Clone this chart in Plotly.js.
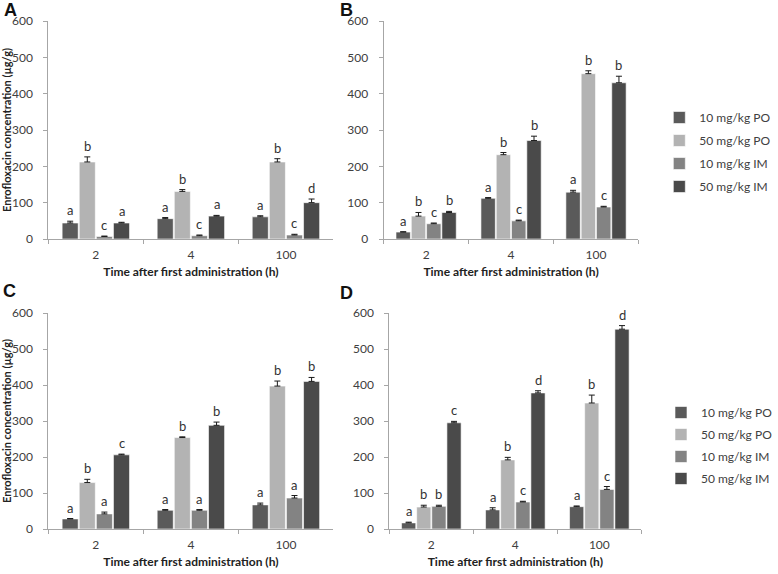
<!DOCTYPE html>
<html>
<head>
<meta charset="utf-8">
<script src="https://cdn.plot.ly/plotly-3.0.1.min.js"></script>
<style>html,body{margin:0;padding:0;background:#fff}#chart{width:778px;height:574px}</style>
</head>
<body>
<div id="chart"></div>
<script>
// ---- data ----
const categories = ['2', '4', '100'];
const seriesNames = ['10 mg/kg PO', '50 mg/kg PO', '10 mg/kg IM', '50 mg/kg IM'];
const seriesColors = ['#5a5a5a', '#b3b3b3', '#838383', '#4a4a4a'];

// Panel A
const aPO10 = [44, 56, 61],   aPO10Err = [5, 3, 3];
const aPO50 = [212, 131, 212], aPO50Err = [14, 5, 9];
const aIM10 = [7, 9, 11],     aIM10Err = [1, 2, 2];
const aIM50 = [44, 63, 100],  aIM50Err = [2, 2, 10];
const aLetters = [['a','a','a'], ['b','b','b'], ['c','c','c'], ['a','a','d']];

// Panel B
const bPO10 = [19, 112, 129], bPO10Err = [1, 2, 5];
const bPO50 = [63, 232, 455], bPO50Err = [10, 6, 8];
const bIM10 = [42, 50, 88],   bIM10Err = [2, 2, 2];
const bIM50 = [73, 271, 430], bIM50Err = [3, 12, 18];
const bLetters = [['a','a','a'], ['b','b','b'], ['c','c','c'], ['b','b','b']];

// Panel C
const cPO10 = [28, 52, 67],   cPO10Err = [1, 2, 5];
const cPO50 = [129, 254, 397], cPO50Err = [9, 2, 14];
const cIM10 = [42, 52, 86],   cIM10Err = [5, 2, 7];
const cIM50 = [206, 288, 410], cIM50Err = [2, 9, 11];
const cLetters = [['a','a','a'], ['b','b','b'], ['a','a','a'], ['c','b','b']];

// Panel D
const dPO10 = [17, 53, 62],   dPO10Err = [2, 6, 2];
const dPO50 = [61, 192, 350], dPO50Err = [5, 7, 22];
const dIM10 = [63, 75, 110],  dIM10Err = [3, 2, 8];
const dIM50 = [295, 378, 555], dIM50Err = [4, 6, 10];
const dLetters = [['a','a','a'], ['b','b','b'], ['b','c','c'], ['c','d','d']];

const panelLabels = ['A', 'B', 'C', 'D'];
const yTitle = 'Enrofloxacin concentration (µg/g)';
const xTitle = 'Time after first administration (h)';

// ---- build ----
const W = 778, H = 574;
const FONT = 'Lato, "Open Sans", sans-serif';
const panels = [
  {vals:[aPO10,aPO50,aIM10,aIM50], errs:[aPO10Err,aPO50Err,aIM10Err,aIM50Err], letters:aLetters, xa:'x',  ya:'y',  legend:null},
  {vals:[bPO10,bPO50,bIM10,bIM50], errs:[bPO10Err,bPO50Err,bIM10Err,bIM50Err], letters:bLetters, xa:'x2', ya:'y2', legend:'legend'},
  {vals:[cPO10,cPO50,cIM10,cIM50], errs:[cPO10Err,cPO50Err,cIM10Err,cIM50Err], letters:cLetters, xa:'x3', ya:'y3', legend:null},
  {vals:[dPO10,dPO50,dIM10,dIM50], errs:[dPO10Err,dPO50Err,dIM10Err,dIM50Err], letters:dLetters, xa:'x4', ya:'y4', legend:'legend2'}
];
// plot-area boxes in pixels [x0, x1, yTop, yBottom]
const boxes = [[51, 352, 21, 239], [405, 674, 21, 239], [51, 352, 313, 529], [411, 677, 313, 529]];

const bargap = 0.28;
const slot = (1 - bargap) / 4;
const traces = [];
const annotations = [];

panels.forEach((p, pi) => {
  p.vals.forEach((v, si) => {
    traces.push({
      type: 'bar', x: categories, y: v, name: seriesNames[si],
      xaxis: p.xa, yaxis: p.ya,
      marker: {color: seriesColors[si], line: {color: '#ffffff', width: 0.6}},
      error_y: {type: 'data', array: p.errs[si], arrayminus: p.errs[si].map(() => 0), symmetric: false,
                color: '#1a1a1a', thickness: 1, width: 3},
      showlegend: p.legend !== null,
      legend: p.legend || 'legend',
      legendgroup: 'g' + pi + si,
      hoverinfo: 'skip'
    });
    categories.forEach((c, ci) => {
      annotations.push({
        xref: p.xa, yref: p.ya, x: ci - (1 - bargap) / 2 + (si + 0.5) * slot,
        y: v[ci] + p.errs[si][ci], yanchor: 'bottom', xanchor: 'center', yshift: 1,
        text: p.letters[si][ci], showarrow: false,
        font: {family: FONT, size: 13, color: '#333333'}
      });
    });
  });
});

const lp = [[11, 10], [366, 10], [10, 291], [366, 293]];
panelLabels.forEach((t, i) => annotations.push({
  xref: 'paper', yref: 'paper', x: lp[i][0] / W, y: 1 - lp[i][1] / H,
  xanchor: 'center', yanchor: 'middle', showarrow: false, text: '<b>' + t + '</b>',
  borderpad: 0,
  font: {family: 'Arial, "Liberation Sans", sans-serif', size: 18, color: '#111'}
}));

const layout = {
  width: W, height: H, margin: {l: 0, r: 0, t: 0, b: 0},
  paper_bgcolor: '#fff', plot_bgcolor: '#fff',
  barmode: 'group', bargap: bargap, bargroupgap: 0.06,
  font: {family: FONT, size: 12, color: '#404040'},
  annotations: annotations,
  legend: {x: 696 / W, y: 1 - 103 / H, xanchor: 'left', yanchor: 'top', tracegroupgap: 4,
           font: {family: FONT, size: 12, color: '#404040'}, itemwidth: 30, bgcolor: 'rgba(0,0,0,0)'},
  legend2: {x: 698 / W, y: 1 - 398 / H, xanchor: 'left', yanchor: 'top', tracegroupgap: 3,
            font: {family: FONT, size: 12, color: '#404040'}, itemwidth: 30, bgcolor: 'rgba(0,0,0,0)'}
};

boxes.forEach((b, i) => {
  const sx = i === 0 ? '' : String(i + 1);
  layout['xaxis' + sx] = {
    domain: [b[0] / W, b[1] / W], anchor: 'y' + sx, type: 'category', range: [-0.5, 2.5],
    showline: true, linecolor: '#a6a6a6', linewidth: 1, ticks: 'outside', tickson: 'boundaries',
    ticklen: 4, tickcolor: '#a6a6a6', showgrid: false, zeroline: false, ticklabelstandoff: 5,
    tickfont: {family: FONT, size: 12, color: '#404040'},
    title: {text: '<b>' + xTitle + '</b>', standoff: 6, font: {family: FONT, size: 12, color: '#222'}},
    fixedrange: true
  };
  const ya = {
    domain: [1 - b[3] / H, 1 - b[2] / H], anchor: 'x' + sx, range: [0, 600], dtick: 100,
    showline: true, linecolor: '#a6a6a6', linewidth: 1, ticks: 'outside', ticklen: 4, tickcolor: '#a6a6a6',
    showgrid: false, zeroline: false, ticklabelstandoff: 8,
    tickfont: {family: FONT, size: 12, color: '#404040'},
    fixedrange: true
  };
  if (i === 0 || i === 2) {
    ya.title = {text: '<b>' + yTitle + '</b>', standoff: 4, font: {family: FONT, size: 11, color: '#222'}};
  }
  layout['yaxis' + sx] = ya;
});

Plotly.newPlot('chart', traces, layout, {displayModeBar: false, staticPlot: true});
</script>
</body>
</html>
